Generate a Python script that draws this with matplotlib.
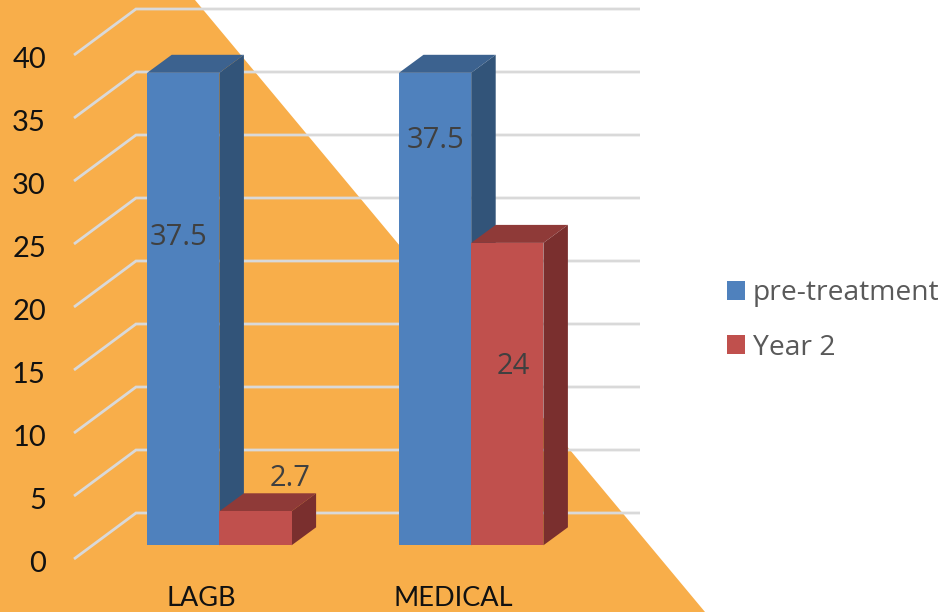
import matplotlib
matplotlib.use("Agg")
import matplotlib.pyplot as plt
from matplotlib.patches import Polygon

categories = ["LAGB", "MEDICAL"]
series_names = ["pre-treatment", "Year 2"]
pre_treatment = [37.5, 37.5]
year_2 = [2.7, 24]
y_ticks = [0, 5, 10, 15, 20, 25, 30, 35, 40]

WIDTH, HEIGHT = 940, 612
PX_PER_UNIT = 12.6
BASE_PX = 545.3          # pixel row of the zero line on the front plane
BAR_W = 72.2
GROUP_LEFT = [147.2, 399.0]
DEPTH_X, DEPTH_Y = 24.5, 18 / PX_PER_UNIT   # bar extrusion
WALL_X, WALL_Y = 62, 46 / PX_PER_UNIT       # floor receding from the axis to the back wall

BLUE = ("#4F81BD", "#3C628F", "#325479")
RED = ("#C0504D", "#8F3A38", "#7A2F2E")
ORANGE = "#F8AE4A"
GRID = "#D9D9D9"
SANS = "Open Sans"


def row(px):
    """Value on the y axis for a pixel row of the canvas."""
    return (BASE_PX - px) / PX_PER_UNIT


fig = plt.figure(figsize=(WIDTH / 100, HEIGHT / 100), dpi=100, facecolor="white")
ax = fig.add_axes([0, 0, 1, 1])
ax.set_xlim(0, WIDTH)
ax.set_ylim(row(HEIGHT), row(0))
ax.axis("off")

# Orange triangular backdrop
ax.add_patch(Polygon([(0, row(0)), (195, row(0)), (705, row(612)), (0, row(612))],
                     closed=True, fc=ORANGE, ec="none", zorder=0))

# Back wall gridlines with their floor-side returns
axis_x = 74
back_x = axis_x + WALL_X
wall_zero = row(513)
for t in y_ticks:
    y = wall_zero + t
    ax.plot([axis_x, back_x, 640], [y - WALL_Y, y, y], color=GRID, lw=2,
            solid_joinstyle="miter", solid_capstyle="butt", zorder=1)
    ax.text(46, y - WALL_Y - 0.4, str(t), ha="right", va="center",
            fontsize=21, family="Lato", color="#111111", zorder=6)


def bar3d(left, value, shades, z):
    """Front, top and side faces of one extruded column."""
    right = left + BAR_W
    front = ax.bar(left, value, width=BAR_W, align="edge", color=shades[0],
                   edgecolor="none", zorder=z + 0.2)
    ax.add_patch(Polygon([(left, value), (right, value),
                          (right + DEPTH_X, value + DEPTH_Y), (left + DEPTH_X, value + DEPTH_Y)],
                         closed=True, fc=shades[1], ec="none", zorder=z))
    ax.add_patch(Polygon([(right, 0), (right, value), (right + DEPTH_X, value + DEPTH_Y),
                          (right + DEPTH_X, DEPTH_Y)],
                         closed=True, fc=shades[2], ec="none", zorder=z + 0.1))
    return front


handles = []
for i, left in enumerate(GROUP_LEFT):
    blue = bar3d(left, pre_treatment[i], BLUE, 2)
    red = bar3d(left + BAR_W, year_2[i], RED, 3)
    if i == 0:
        handles = [blue, red]

# Value labels
label_style = dict(ha="center", va="center", fontsize=21, family=SANS, color="#404040", zorder=6)
ax.text(179, row(237), f"{pre_treatment[0]:g}", **label_style)
ax.text(436, row(140), f"{pre_treatment[1]:g}", **label_style)
ax.text(290, row(478), f"{year_2[0]:g}", **label_style)
ax.text(513, row(366), f"{year_2[1]:g}", **label_style)

# Category labels
for name, left in zip(categories, GROUP_LEFT):
    ax.text(left + 54, row(598), name, ha="center", va="center",
            fontsize=19.5, family="Lato", color="#111111", zorder=6)

ax.legend(handles, series_names, loc="center left",
          bbox_to_anchor=(727 / WIDTH, 1 - 320.5 / HEIGHT), frameon=False,
          prop={"family": SANS, "size": 20.3}, labelcolor="#595959",
          handlelength=0.64, handleheight=0.64, handletextpad=0.28,
          labelspacing=0.93, borderpad=0, borderaxespad=0)

fig.savefig("out.png", dpi=100)
